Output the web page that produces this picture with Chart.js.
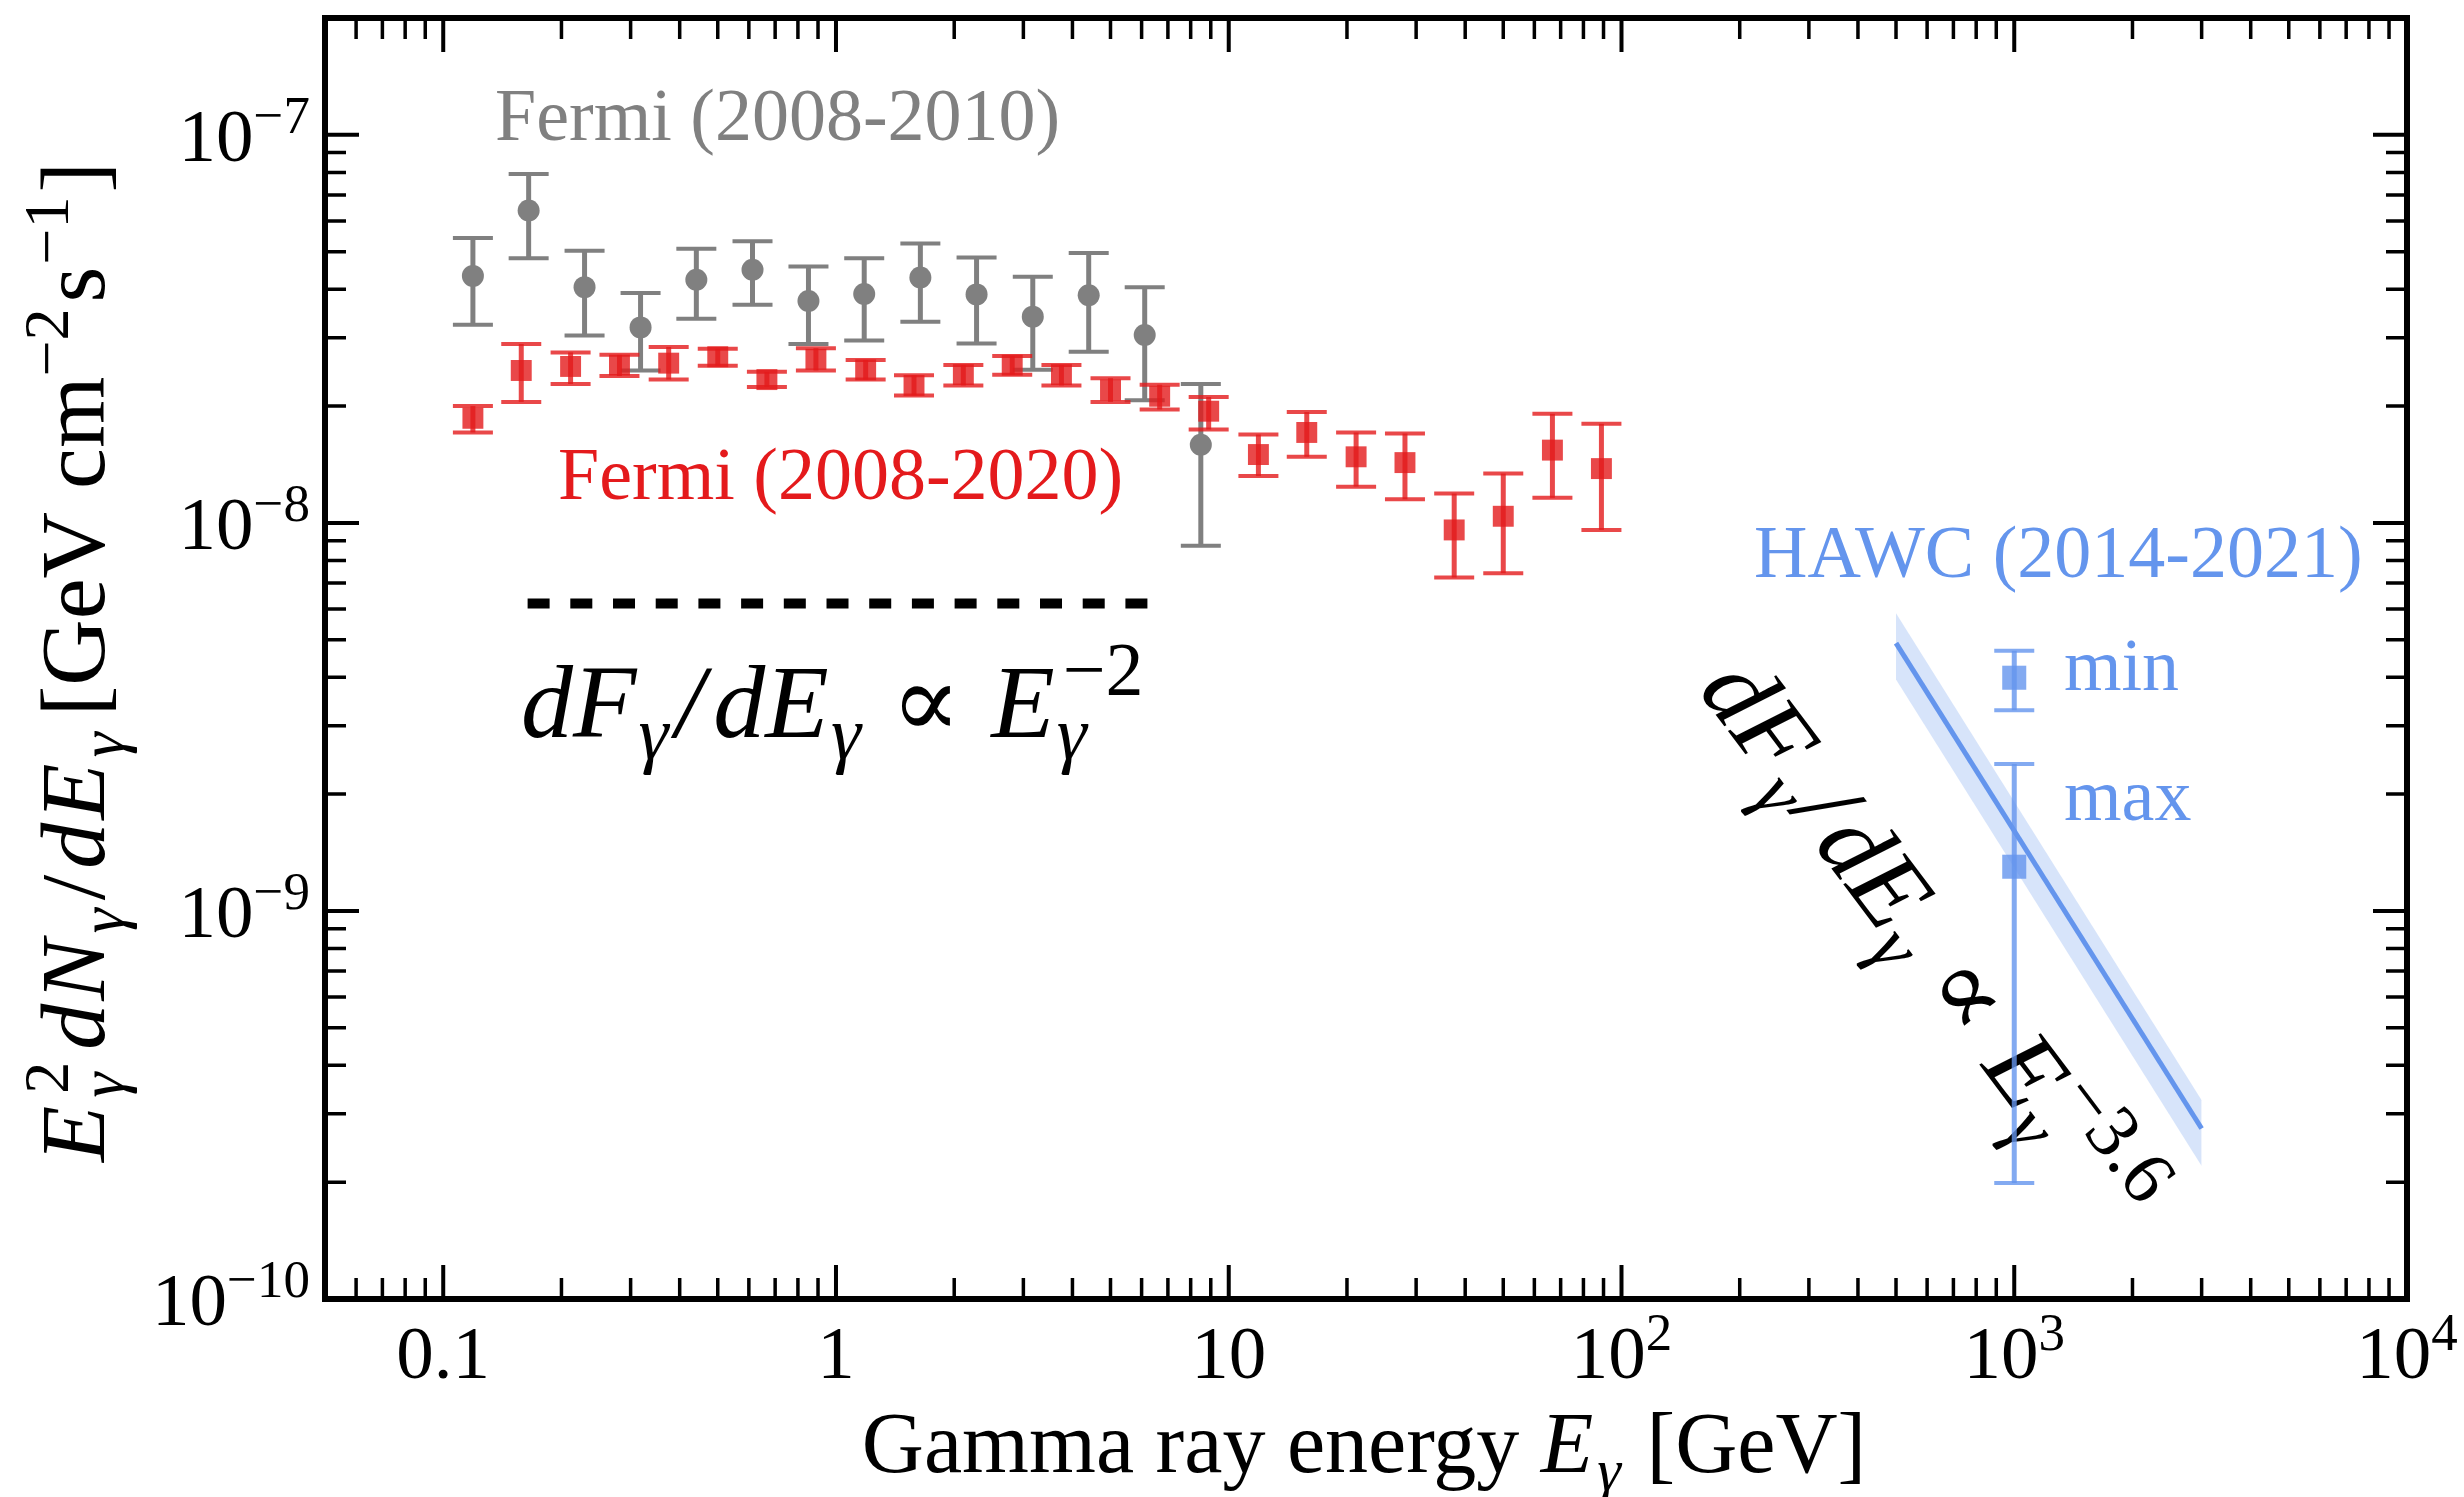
<!DOCTYPE html>
<html>
<head>
<meta charset="utf-8">
<title>Gamma ray spectrum</title>
<script src="https://cdn.jsdelivr.net/npm/chart.js@4.4.1/dist/chart.umd.min.js"></script>
<style>
  html, body { margin: 0; padding: 0; background: #fff; }
  #wrap { width: 2464px; height: 1497px; }
</style>
</head>
<body>
<div id="wrap"><canvas id="spec" width="2464" height="1497"></canvas></div>
<script>
// Fermi 2008-2010 (grey circles)
var fermiOldE  = [0.119, 0.165, 0.229, 0.318, 0.441, 0.613, 0.851, 1.18, 1.64, 2.28, 3.17, 4.40, 6.11, 8.49];
var fermiOldF  = [4.33e-8, 6.38e-8, 4.05e-8, 3.19e-8, 4.23e-8, 4.49e-8, 3.73e-8, 3.89e-8, 4.29e-8, 3.88e-8, 3.40e-8, 3.86e-8, 3.05e-8, 1.59e-8];
var fermiOldHi = [5.42e-8, 7.93e-8, 5.03e-8, 3.91e-8, 5.09e-8, 5.32e-8, 4.58e-8, 4.81e-8, 5.25e-8, 4.83e-8, 4.31e-8, 4.96e-8, 4.05e-8, 2.28e-8];
var fermiOldLo = [3.24e-8, 4.81e-8, 3.04e-8, 2.47e-8, 3.36e-8, 3.65e-8, 2.89e-8, 2.95e-8, 3.30e-8, 2.90e-8, 2.48e-8, 2.76e-8, 2.07e-8, 8.73e-9];

// Fermi 2008-2020 (red squares)
var fermiNewE  = [0.119, 0.158, 0.211, 0.281, 0.375, 0.500, 0.667, 0.889, 1.19, 1.58, 2.11, 2.81, 3.75, 5.00, 6.67, 8.89, 11.9, 15.8, 21.1, 28.1, 37.5, 50.0, 66.7, 88.9];
var fermiNewF  = [1.86e-8, 2.47e-8, 2.53e-8, 2.55e-8, 2.58e-8, 2.68e-8, 2.34e-8, 2.64e-8, 2.48e-8, 2.26e-8, 2.41e-8, 2.55e-8, 2.41e-8, 2.20e-8, 2.12e-8, 1.94e-8, 1.50e-8, 1.71e-8, 1.48e-8, 1.43e-8, 9.59e-9, 1.04e-8, 1.54e-8, 1.38e-8];
var fermiNewHi = [2.00e-8, 2.89e-8, 2.75e-8, 2.71e-8, 2.84e-8, 2.81e-8, 2.45e-8, 2.82e-8, 2.63e-8, 2.40e-8, 2.55e-8, 2.69e-8, 2.55e-8, 2.36e-8, 2.27e-8, 2.11e-8, 1.69e-8, 1.93e-8, 1.71e-8, 1.70e-8, 1.19e-8, 1.34e-8, 1.91e-8, 1.80e-8];
var fermiNewLo = [1.71e-8, 2.05e-8, 2.28e-8, 2.39e-8, 2.34e-8, 2.54e-8, 2.24e-8, 2.47e-8, 2.34e-8, 2.13e-8, 2.26e-8, 2.41e-8, 2.26e-8, 2.05e-8, 1.96e-8, 1.74e-8, 1.32e-8, 1.48e-8, 1.24e-8, 1.15e-8, 7.23e-9, 7.42e-9, 1.16e-8, 9.59e-9];

// HAWC 2014-2021 (min / max)
var hawcE  = [1000, 1000];
var hawcF  = [3.99e-9, 1.30e-9];
var hawcHi = [4.68e-9, 2.39e-9];
var hawcLo = [3.29e-9, 1.99e-10];

// E^-3.6 fit and its band
var fitE      = [500, 3000];
var fitF      = [4.9e-9, 2.75e-10];
var fitBandHi = [5.85e-9, 3.25e-10];
var fitBandLo = [3.95e-9, 2.2e-10];

// E^-2 reference (dashed)
var refE = [0.164, 6.21];
var refF = [6.2e-9, 6.2e-9];

// tick labels
var xTicks = [0.1, 1, 10, 100, 1000, 10000];
var xTickLabels = [['0.1', ''], ['1', ''], ['10', ''], ['10', '2'], ['10', '3'], ['10', '4']];
var yTicks = [1e-10, 1e-9, 1e-8, 1e-7];
var yTickLabels = [['10', '−10'], ['10', '−9'], ['10', '−8'], ['10', '−7']];

var GREY = '#808080';
var RED = 'rgb(228,26,28)';
var BLUE = '#6495ED';
var FONT = '"Liberation Serif", "DejaVu Serif", serif';

function pts(xs, ys) {
    return xs.map(function (x, i) { return { x: x, y: ys[i] }; });
}

// text with sub/superscripts: parts = [{t, i, s:'sub'|'sup', t2 (sup stacked over sub), gap}]
function richWidth(ctx, parts, o) {
    var w = 0;
    parts.forEach(function (p) {
        var sz = p.s ? o.small : o.size;
        ctx.font = (p.i ? 'italic ' : '') + sz + 'px ' + FONT;
        var pw = ctx.measureText(p.t).width;
        if (p.t2) {
            ctx.font = o.small + 'px ' + FONT;
            pw = Math.max(pw, ctx.measureText(p.t2).width);
        }
        p.w = pw + (p.gap || 0);
        w += p.w;
    });
    return w;
}
function drawRich(ctx, x, y, parts, o, align) {
    var w = richWidth(ctx, parts, o);
    var cx = align === 'center' ? x - w / 2 : (align === 'right' ? x - w : x);
    ctx.textAlign = 'left';
    ctx.textBaseline = 'alphabetic';
    parts.forEach(function (p) {
        var sz = p.s ? o.small : o.size;
        var dy = p.s === 'sub' ? o.subDy : (p.s === 'sup' ? -o.supDy : 0);
        ctx.font = (p.i ? 'italic ' : '') + sz + 'px ' + FONT;
        ctx.fillText(p.t, cx, y + dy);
        if (p.t2) {
            ctx.font = o.small + 'px ' + FONT;
            ctx.fillText(p.t2, cx + (p.t2dx || 0), y - o.supDy);
        }
        cx += p.w;
    });
}

function powerLaw(idx) {
    return [
        { t: 'd', i: true }, { t: 'F', i: true, gap: 2 }, { t: 'γ', i: true, s: 'sub', gap: 7 },
        { t: '/', i: true, gap: 9 },
        { t: 'd', i: true }, { t: 'E', i: true, gap: 2 }, { t: 'γ', i: true, s: 'sub', gap: 4 },
        { t: ' ∝ ', gap: 4 },
        { t: 'E', i: true, gap: 2 }, { t: 'γ', i: true, s: 'sub', t2: idx, t2dx: 6 }
    ];
}

var errorBars = {
    id: 'errorBars',
    beforeDatasetDraw: function (chart, args) {
        var ds = chart.data.datasets[args.index];
        if (!ds.errLo) return;
        var ctx = chart.ctx, xs = chart.scales.x, ys = chart.scales.y, a = chart.chartArea;
        ctx.save();
        ctx.beginPath();
        ctx.rect(a.left, a.top, a.right - a.left, a.bottom - a.top);
        ctx.clip();
        ctx.strokeStyle = ds.errColor;
        ctx.lineCap = 'butt';
        ds.data.forEach(function (p, i) {
            var px = xs.getPixelForValue(p.x);
            var top = ys.getPixelForValue(ds.errHi[i]);
            var bot = ys.getPixelForValue(ds.errLo[i]);
            ctx.lineWidth = 5;
            ctx.beginPath();
            ctx.moveTo(px, top); ctx.lineTo(px, bot);
            ctx.stroke();
            ctx.lineWidth = 4;
            ctx.beginPath();
            ctx.moveTo(px - 20, top); ctx.lineTo(px + 20, top);
            ctx.moveTo(px - 20, bot); ctx.lineTo(px + 20, bot);
            ctx.stroke();
        });
        ctx.restore();
    }
};

// annotations under the data
var notes = {
    id: 'notes',
    beforeDatasetsDraw: function (chart) {
        var ctx = chart.ctx;
        ctx.save();
        var lab = { size: 74, small: 52, subDy: 15, supDy: 28 };
        ctx.fillStyle = GREY;
        drawRich(ctx, 495, 140, [{ t: 'Fermi (2008-2010)' }], lab, 'left');
        ctx.fillStyle = RED;
        drawRich(ctx, 558, 499, [{ t: 'Fermi (2008-2020)' }], lab, 'left');
        ctx.fillStyle = BLUE;
        drawRich(ctx, 1754, 577, [{ t: 'HAWC (2014-2021)' }], lab, 'left');
        drawRich(ctx, 2064, 690, [{ t: 'min' }], lab, 'left');
        drawRich(ctx, 2064, 820, [{ t: 'max' }], lab, 'left');

        // power-law labels
        var fo = { size: 104, small: 76, subDy: 22, supDy: 42 };
        ctx.fillStyle = '#000';
        drawRich(ctx, 521, 737, powerLaw('−2'), fo, 'left');

        ctx.translate(1697, 690);
        ctx.rotate(53 * Math.PI / 180);
        drawRich(ctx, 0, 0, powerLaw('−3.6'), fo, 'left');
        ctx.restore();
    }
};

// frame, inward ticks, tick labels, axis titles
var frame = {
    id: 'frame',
    afterDatasetsDraw: function (chart) {
        var ctx = chart.ctx, a = chart.chartArea;
        var xs = chart.scales.x, ys = chart.scales.y;
        ctx.save();
        ctx.strokeStyle = '#000';
        ctx.lineCap = 'butt';

        var d, m, v, p, len;
        for (d = -2; d <= 4; d++) {
            for (m = 1; m <= 9; m++) {
                v = parseFloat((m * Math.pow(10, d)).toPrecision(6));
                if (v < xs.min * 0.999 || v > xs.max * 1.001) continue;
                p = xs.getPixelForValue(v);
                len = m === 1 ? 34 : 21;
                ctx.lineWidth = m === 1 ? 4 : 3.5;
                ctx.beginPath();
                ctx.moveTo(p, a.bottom); ctx.lineTo(p, a.bottom - len);
                ctx.moveTo(p, a.top); ctx.lineTo(p, a.top + len);
                ctx.stroke();
            }
        }
        for (d = -11; d <= -7; d++) {
            for (m = 1; m <= 9; m++) {
                v = parseFloat((m * Math.pow(10, d)).toPrecision(6));
                if (v < ys.min * 0.999 || v > ys.max * 1.001) continue;
                p = ys.getPixelForValue(v);
                len = m === 1 ? 34 : 21;
                ctx.lineWidth = m === 1 ? 4 : 3.5;
                ctx.beginPath();
                ctx.moveTo(a.left, p); ctx.lineTo(a.left + len, p);
                ctx.moveTo(a.right, p); ctx.lineTo(a.right - len, p);
                ctx.stroke();
            }
        }
        ctx.lineWidth = 6;
        ctx.strokeRect(a.left, a.top, a.right - a.left, a.bottom - a.top);

        // tick labels
        ctx.fillStyle = '#000';
        var tl = { size: 75, small: 53, subDy: 0, supDy: 28 };
        xTicks.forEach(function (t, i) {
            var parts = [{ t: xTickLabels[i][0] }];
            if (xTickLabels[i][1]) parts.push({ t: xTickLabels[i][1], s: 'sup' });
            drawRich(ctx, xs.getPixelForValue(t), a.bottom + 79, parts, tl, 'center');
        });
        yTicks.forEach(function (t, i) {
            var parts = [{ t: yTickLabels[i][0] }, { t: yTickLabels[i][1], s: 'sup' }];
            drawRich(ctx, a.left - 15, ys.getPixelForValue(t) + 26, parts, tl, 'right');
        });

        // axis titles
        var at = { size: 86, small: 60, subDy: 18, supDy: 34 };
        drawRich(ctx, 1364, 1472, [
            { t: 'Gamma ray energy ' }, { t: 'E', i: true, gap: 4 }, { t: 'γ', i: true, s: 'sub', gap: 4 },
            { t: ' [GeV]' }
        ], at, 'center');

        var yt = { size: 92, small: 64, subDy: 19, supDy: 36 };
        ctx.translate(104, 662);
        ctx.rotate(-Math.PI / 2);
        drawRich(ctx, 0, 0, [
            { t: 'E', i: true, gap: 8 }, { t: 'γ', i: true, s: 'sub', t2: '2', t2dx: 4, gap: 16 },
            { t: 'd', i: true, gap: 3 }, { t: 'N', i: true, gap: 6 }, { t: 'γ', i: true, s: 'sub', gap: 8 },
            { t: '/', gap: 6 },
            { t: 'd', i: true, gap: 3 }, { t: 'E', i: true, gap: 6 }, { t: 'γ', i: true, s: 'sub', gap: 16 },
            { t: '[GeV cm' }, { t: '−2', s: 'sup', gap: 6 }, { t: 's', gap: 2 }, { t: '−1', s: 'sup', gap: 4 }, { t: ']' }
        ], yt, 'center');
        ctx.restore();
    }
};

new Chart(document.getElementById('spec'), {
    type: 'scatter',
    data: {
        datasets: [
            {
                type: 'line', label: 'band upper', data: pts(fitE, fitBandHi),
                borderWidth: 0, pointRadius: 0, fill: '+1',
                backgroundColor: 'rgba(100,149,237,0.26)', order: 7
            },
            {
                type: 'line', label: 'band lower', data: pts(fitE, fitBandLo),
                borderWidth: 0, pointRadius: 0, fill: false, order: 7
            },
            {
                type: 'line', label: 'E^-3.6 fit', data: pts(fitE, fitF),
                borderColor: BLUE, borderWidth: 5, pointRadius: 0, fill: false, order: 6
            },
            {
                type: 'line', label: 'E^-2', data: pts(refE, refF),
                borderColor: '#000', borderWidth: 10, borderDash: [22, 20.7],
                borderCapStyle: 'butt', pointRadius: 0, fill: false, order: 5
            },
            {
                label: 'Fermi (2008-2010)', data: pts(fermiOldE, fermiOldF),
                pointStyle: 'circle', pointRadius: 11, borderWidth: 0,
                backgroundColor: GREY, errColor: GREY,
                errLo: fermiOldLo, errHi: fermiOldHi, order: 4
            },
            {
                label: 'Fermi (2008-2020)', data: pts(fermiNewE, fermiNewF),
                pointStyle: 'rect', pointRadius: 14.8, borderWidth: 0,
                backgroundColor: 'rgba(228,26,28,0.8)', errColor: 'rgba(228,26,28,0.8)',
                errLo: fermiNewLo, errHi: fermiNewHi, order: 3
            },
            {
                label: 'HAWC (2014-2021)', data: pts(hawcE, hawcF),
                pointStyle: 'rect', pointRadius: 17, borderWidth: 0,
                backgroundColor: 'rgba(100,149,237,0.8)', errColor: 'rgba(100,149,237,0.8)',
                errLo: hawcLo, errHi: hawcHi, order: 2
            }
        ]
    },
    options: {
        responsive: false,
        animation: false,
        devicePixelRatio: 1,
        layout: { padding: { left: 325, right: 57, top: 18, bottom: 198 } },
        plugins: { legend: { display: false }, tooltip: { enabled: false } },
        scales: {
            x: { type: 'logarithmic', min: 0.05, max: 10000, display: false },
            y: { type: 'logarithmic', min: 1e-10, max: 2e-7, display: false }
        }
    },
    plugins: [errorBars, notes, frame]
});
</script>
</body>
</html>
